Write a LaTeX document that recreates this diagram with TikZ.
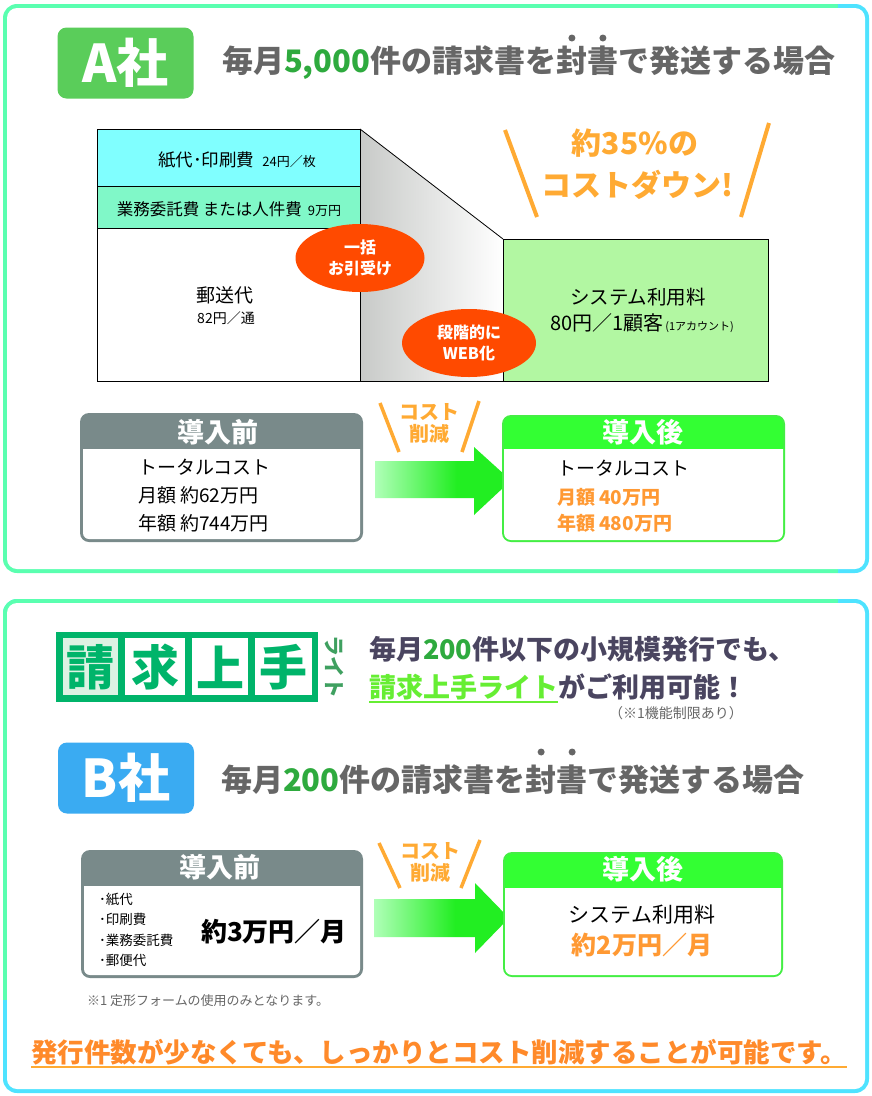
\documentclass[tikz,border=0pt]{standalone}
\usepackage{fontspec}
\setmainfont{Noto Sans CJK JP}
\usetikzlibrary{calc,shapes.geometric}
\definecolor{frG}{HTML}{5AFFB0}
\definecolor{frC}{HTML}{4EE3FF}
\definecolor{bdA}{HTML}{5ACD5A}
\definecolor{bdB}{HTML}{3AABF2}
\definecolor{hgray}{HTML}{798A8A}
\definecolor{hgreen}{HTML}{33FF33}
\definecolor{bgreen}{HTML}{44EE44}
\definecolor{numg}{HTML}{2EAA3E}
\definecolor{txg}{HTML}{666666}
\definecolor{txd}{HTML}{4A4560}
\definecolor{orA}{HTML}{FFAA33}
\definecolor{orB}{HTML}{FF9933}
\definecolor{orC}{HTML}{FF8A2A}
\definecolor{ell}{HTML}{FF4A00}
\definecolor{cyb}{HTML}{80FFFF}
\definecolor{tlb}{HTML}{80F8C8}
\definecolor{lgb}{HTML}{B2F7A2}
\definecolor{logo}{HTML}{00B46A}
\definecolor{logol}{HTML}{DDF2E3}
\definecolor{raito}{HTML}{3FA060}
\definecolor{lite}{HTML}{66EE33}
\definecolor{pale}{HTML}{B0FFB8}
\definecolor{arrg}{HTML}{22EE22}
\definecolor{trl}{HTML}{C8CAC8}
\newcommand\fsz[2]{\fontsize{#1}{#2}\selectfont}
\pgfdeclarehorizontalshading{arrsh}{100bp}{color(0bp)=(pale); color(25bp)=(pale); color(55bp)=(arrg); color(100bp)=(arrg)}
\pgfdeclarehorizontalshading{trsh}{100bp}{color(0bp)=(trl); color(25bp)=(trl); color(75bp)=(white); color(100bp)=(white)}
\begin{document}
\begin{tikzpicture}[x=1pt,y=-1pt,
  tx/.style={inner sep=0pt, outer sep=0pt},
  badge/.style={tx, rounded corners=9, minimum width=136pt, minimum height=71pt, text=white, font=\fsz{52}{52}\bfseries},
  hdr/.style={tx, font=\fsz{31}{31}\bfseries, text=txg},
  ellnode/.style={ellipse, fill=ell, inner sep=0pt, text=white, align=center, font=\fsz{16}{21}\bfseries},
  slash/.style={orA, line width=3.5pt},
  chead/.style={tx, text=white, font=\fsz{27}{27}\bfseries},
  body/.style={tx, anchor=west, font=\fsz{19}{19}},
  logoch/.style={tx, text=logo, font=\fsz{48}{48}\bfseries},
  arrowshape/.style={shading=arrsh}
]
\useasboundingbox (0,0) rectangle (872,1096);
% ---------- frames ----------
\begin{scope}
  \clip[rounded corners=14] (3,4) rectangle (869,573);
  \fill[frG] (0,0) rectangle (838,580);
  \fill[frC] (838,0) rectangle (872,580);
\end{scope}
\fill[white,rounded corners=10] (7,8) rectangle (865,569);
\begin{scope}
  \clip[rounded corners=14] (3,599) rectangle (869,1093);
  \fill[frC] (0,590) rectangle (872,1096);
  \fill[frG] (0,590) rectangle (838,1000);
\end{scope}
\fill[white,rounded corners=10] (7,603) rectangle (865,1089);

% ---------- A header ----------
\node[badge, fill=bdA] (ba) at (125.5,63) {A社};
\node[hdr, anchor=west] (ha1) at (222,63) {毎月\textcolor{numg}{5,000}件の請求書を};
\node[hdr, anchor=base west] (ha2) at (ha1.base east) {封書};
\node[hdr, anchor=base west] (ha3) at (ha2.base east) {で発送する場合};
\coordinate (dya) at (0,38);
\coordinate (da1) at ($(ha2.west)!0.25!(ha2.east)$);
\coordinate (da2) at ($(ha2.west)!0.75!(ha2.east)$);
\fill[txg] (da1 |- dya) circle (3.5);
\fill[txg] (da2 |- dya) circle (3.5);

% ---------- A cost diagram ----------
\fill[cyb] (97,129) rectangle (360,186);
\fill[tlb] (97,186) rectangle (360,228);
\fill[white] (97,228) rectangle (360,381);
\shade[shading=trsh] (360,129) -- (503,239) -- (503,381) -- (360,381) -- cycle;
\fill[lgb] (503,239) rectangle (768,381);
\draw[black, line width=0.8pt] (97,129) rectangle (360,381);
\draw[black, line width=0.8pt] (97,186) -- (360,186) (97,228) -- (360,228);
\draw[black, line width=0.8pt] (360,129) -- (503,239);
\draw[black, line width=0.8pt] (360,381) -- (503,381);
\draw[black, line width=0.8pt] (503,239) rectangle (768,381);

\node[tx] (t1) at (237,160) {\fsz{17.5}{17.5}紙代･印刷費\hspace{8pt}{\fsz{13}{13}24円／枚}};
\node[tx] (t2) at (229,209) {\fsz{16.5}{16.5}業務委託費 または人件費\hspace{6pt}{\fsz{13}{13}9万円}};
\node[tx, font=\fsz{19}{19}] (t3) at (225,295) {郵送代};
\node[tx, font=\fsz{14}{14}] (t4) at (226,318) {82円／通};
\node[tx, font=\fsz{19.5}{19.5}] (t5) at (638,297) {システム利用料};
\node[tx] (t6) at (642,323) {\fsz{20}{20}80円／1顧客\hspace{2pt}{\fsz{11}{11}(1アカウント)}};

\node[ellnode, minimum width=129pt, minimum height=68pt] (e1) at (360,258) {一括\\お引受け};
\node[ellnode, minimum width=134pt, minimum height=68pt] (e2) at (469,343) {段階的に\\WEB化};

\node[tx, text=orA, font=\fsz{30}{30}\bfseries] (d1) at (635,143) {約35\%の};
\node[tx, text=orA, font=\fsz{30}{30}\bfseries] (d2) at (637,185) {コストダウン!};
\coordinate (s1a) at (505,130); \coordinate (s1b) at (537,217);
\coordinate (s2a) at (769,123); \coordinate (s2b) at (741,217);
\draw[slash, line width=4pt] (s1a) -- (s1b);
\draw[slash, line width=4pt] (s2a) -- (s2b);

% ---------- A before / after ----------
\fill[hgray, rounded corners=9] (80,413) rectangle (363,542);
\begin{scope}\clip (0,449) rectangle (872,600);
  \fill[white, rounded corners=6] (83,420) rectangle (360,539);
\end{scope}
\node[chead] (pa) at (218,432) {導入前};
\node[body] (pa1) at (138,467) {トータルコスト};
\node[body] (pa2) at (138,495) {月額 約62万円};
\node[body] (pa3) at (138,523) {年額 約744万円};

\shade[arrowshape] (375,461) -- (474,461) -- (474,447) -- (511,480.5) -- (474,515) -- (474,498) -- (375,498) -- cycle;
\node[tx, text=orA, font=\fsz{20}{22}\bfseries, align=center] (ca) at (429,423) {コスト\\削減};
\draw[slash] (380,403) -- (399,452);
\draw[slash] (479,401) -- (462,452);

\fill[bgreen, rounded corners=9] (502,415) rectangle (785,542);
\fill[hgreen, rounded corners=7] (504,417) rectangle (783,540);
\begin{scope}\clip (0,449) rectangle (872,600);
  \fill[white, rounded corners=7] (504,420) rectangle (783,540);
\end{scope}
\node[chead] (qa) at (643,432) {導入後};
\node[body] (qa1) at (557,468) {トータルコスト};
\node[body, text=orB, font=\fsz{19}{19}\bfseries] (qa2) at (557,497) {月額 40万円};
\node[body, text=orB, font=\fsz{19}{19}\bfseries] (qa3) at (557,523) {年額 480万円};

% ---------- logo ----------
\fill[logo] (56,632) rectangle (318,702);
\fill[logol] (63,638) rectangle (118,695);
\fill[white] (125,638) rectangle (185,695);
\fill[white] (192,638) rectangle (248,695);
\fill[white] (255,638) rectangle (312,695);
\node[logoch] (l1) at (90.5,667) {請};
\node[logoch] (l2) at (155,667) {求};
\node[logoch] (l3) at (220,667) {上};
\node[logoch] (l4) at (283.5,667) {手};
\node[tx, rotate=-90, text=raito, font=\fsz{21}{21}\bfseries] (l5) at (334,667) {ライト};

\node[tx, anchor=west, text=txd, font=\fsz{27}{27}\bfseries] (m1) at (369,649) {毎月\textcolor{numg}{200}件以下の小規模発行でも、};
\node[tx, anchor=west, text=lite, font=\fsz{27}{27}\bfseries] (m2) at (369,687) {請求上手ライト};
\node[tx, anchor=base west, text=txd, font=\fsz{27}{27}\bfseries] (m3) at (m2.base east) {がご利用可能！};
\draw[lite, line width=1.8pt] ($(m2.base west)+(0,5)$) -- ($(m2.base east)+(0,5)$);
\node[tx, text=txg, font=\fsz{14}{14}] (m4) at (676,713) {（※1機能制限あり）};

% ---------- B header ----------
\node[badge, fill=bdB] (bb) at (126,778) {B社};
\node[hdr, anchor=west] (hb1) at (221,780) {毎月\textcolor{numg}{200}件の請求書を};
\node[hdr, anchor=base west] (hb2) at (hb1.base east) {封書};
\node[hdr, anchor=base west] (hb3) at (hb2.base east) {で発送する場合};
\coordinate (dyb) at (0,752);
\coordinate (db1) at ($(hb2.west)!0.25!(hb2.east)$);
\coordinate (db2) at ($(hb2.west)!0.75!(hb2.east)$);
\fill[txg] (db1 |- dyb) circle (3.5);
\fill[txg] (db2 |- dyb) circle (3.5);

% ---------- B before / after ----------
\fill[hgray, rounded corners=9] (81,850) rectangle (363,978);
\begin{scope}\clip (0,886) rectangle (872,1000);
  \fill[white, rounded corners=6] (84,860) rectangle (360,975);
\end{scope}
\node[chead] (pb) at (220,867) {導入前};
\node[tx, anchor=west, font=\fsz{13.5}{13.5}] (pb1) at (99,899) {･紙代};
\node[tx, anchor=west, font=\fsz{13.5}{13.5}] (pb2) at (99,919) {･印刷費};
\node[tx, anchor=west, font=\fsz{13.5}{13.5}] (pb3) at (99,940) {･業務委託費};
\node[tx, anchor=west, font=\fsz{13.5}{13.5}] (pb4) at (99,960) {･郵便代};
\node[tx, font=\fsz{26}{26}\bfseries] (pb5) at (274,932) {約3万円／月};

\shade[arrowshape] (374,899) -- (475,899) -- (475,883) -- (509,918) -- (475,953) -- (475,937) -- (374,937) -- cycle;
\node[tx, text=orA, font=\fsz{20}{22}\bfseries, align=center] (cb) at (430,862) {コスト\\削減};
\draw[slash] (379,843) -- (400,888);
\draw[slash] (480,840) -- (461,888);

\fill[bgreen, rounded corners=9] (503,852) rectangle (783,977);
\fill[hgreen, rounded corners=7] (505,854) rectangle (781,975);
\begin{scope}\clip (0,888) rectangle (872,1000);
  \fill[white, rounded corners=7] (505,860) rectangle (781,975);
\end{scope}
\node[chead] (qb) at (643,869) {導入後};
\node[tx, font=\fsz{21}{21}] (qb1) at (642,915) {システム利用料};
\node[tx, text=orB, font=\fsz{25}{25}\bfseries] (qb2) at (642,945) {約2万円／月};

\node[tx, anchor=west, text=txg, font=\fsz{13}{13}] (fn) at (87,1001) {※1 定形フォームの使用のみとなります。};

\node[tx, text=orC, font=\fsz{26.5}{26.5}\bfseries] (fin) at (439,1052) {発行件数が少なくても、しっかりとコスト削減することが可能です。};
\coordinate (u1) at (31,1067); \coordinate (u2) at (847,1067);
\draw[orA, line width=2pt] (u1) -- (u2);
\end{tikzpicture}
\end{document}
